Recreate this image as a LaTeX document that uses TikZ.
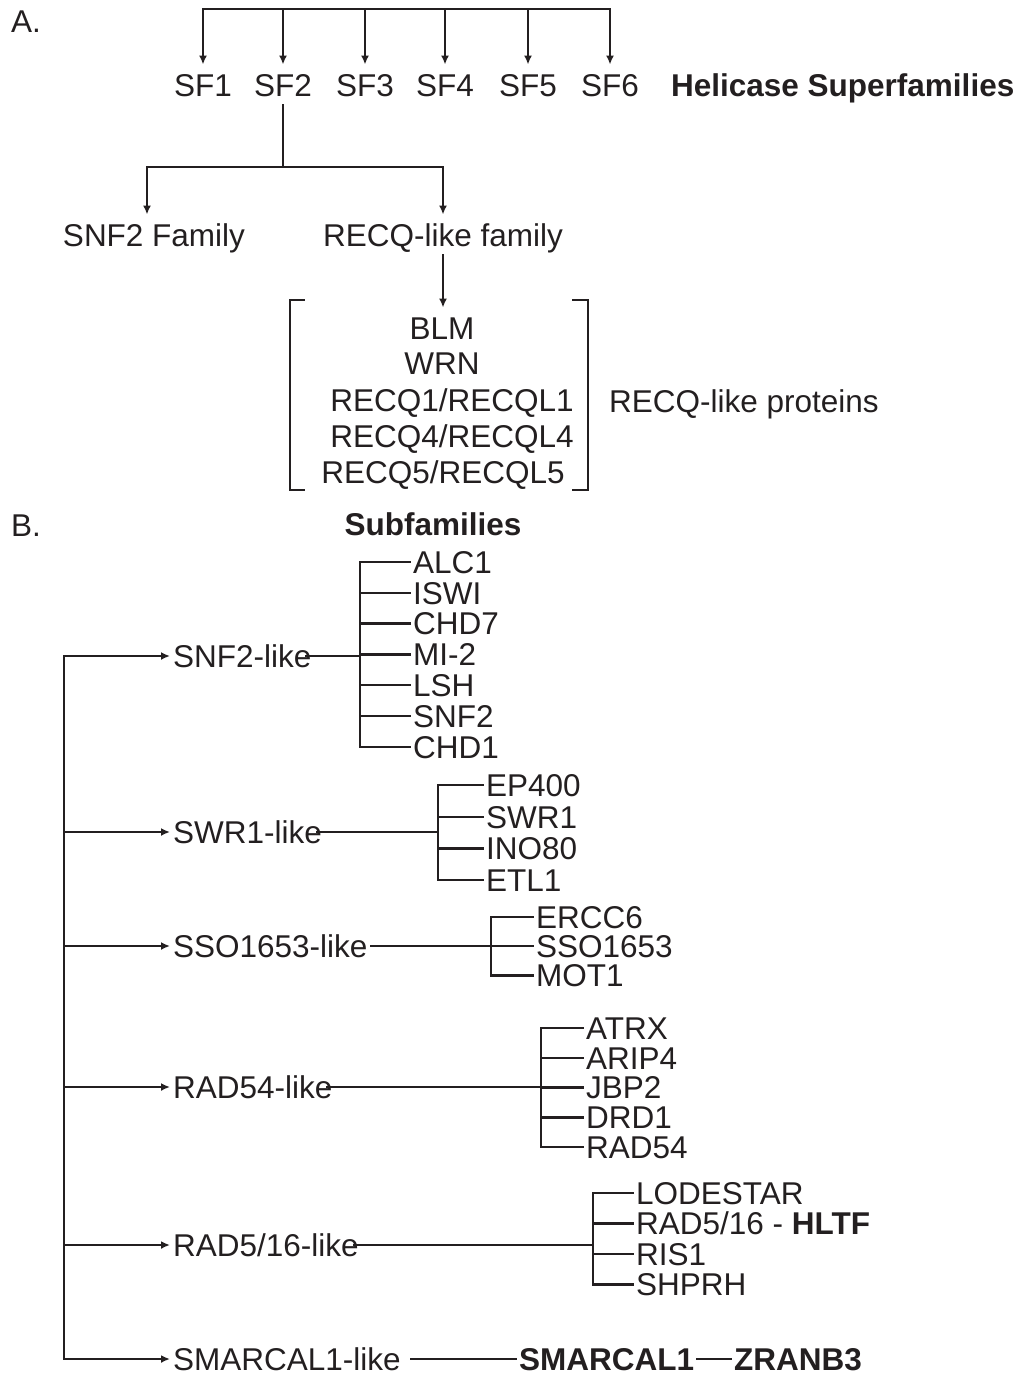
\documentclass[tikz,border=0pt]{standalone}
\usepackage{fontspec}
\setmainfont{Liberation Sans}
\usetikzlibrary{arrows.meta, positioning, calc}
\definecolor{ink}{HTML}{231F20}

\begin{document}
\begin{tikzpicture}[x=1pt, y=-1pt, >={Latex[length=9pt,width=8pt]}, line width=2.3pt, line cap=rect, ink,
    famlbl/.style={inner xsep=0pt, inner ysep=8pt, text height=22.6pt, text depth=0pt, font=\fontsize{31.5}{36}\selectfont},
    sub/.style={anchor=west, inner xsep=2pt, inner ysep=0pt, text height=22.6pt, text depth=0pt, font=\fontsize{31.5}{36}\selectfont}]
        \useasboundingbox (0,0) rectangle (1022,1375);

        % A. helicase superfamilies
        \node[sub] (lblA) at (8,21) {A.};
        \node[famlbl] (sf1) at (203,85) {SF1};
        \node[famlbl] (sf2) at (283,85) {SF2};
        \node[famlbl] (sf3) at (365,85) {SF3};
        \node[famlbl] (sf4) at (445,85) {SF4};
        \node[famlbl] (sf5) at (528,85) {SF5};
        \node[famlbl] (sf6) at (610,85) {SF6};
        \node[sub] (heli) at (668,85) {\textbf{Helicase Superfamilies}};

        \coordinate (bar) at (0,9);
        \draw (sf1 |- bar) -- (sf6 |- bar);
        \foreach \s in {sf1,sf2,sf3,sf4,sf5,sf6}
          \draw[->, line cap=butt] (\s |- bar) -- (\s);

        \node[famlbl] (snf2fam) at (154,235) {SNF2 Family};
        \node[famlbl] (recqfam) at (443,235) {RECQ-like family};
        \coordinate (fork) at (283,167);
        \draw (sf2) -- (fork);
        \draw[->] (fork) -| ([xshift=-7pt]snf2fam.north);
        \draw[->] (fork) -| (recqfam);

        \node[famlbl] (blm) at (442,328) {BLM};
        \node[famlbl] (wrn) at (442,363) {WRN};
        \node[famlbl] (recq1) at (452,400) {RECQ1/RECQL1};
        \node[famlbl] (recq4) at (452,436) {RECQ4/RECQL4};
        \node[famlbl] (recq5) at (443,472) {RECQ5/RECQL5};
        \draw[->] (recqfam) -- (recqfam |- blm.north);
        \draw (304,300) -| (290,490) -- (304,490);
        \draw (573,300) -| (588,490) -- (573,490);
        \node[sub] (recqprot) at (606,401) {RECQ-like proteins};

        % B. SNF2 subfamilies
        \node[sub] (lblB) at (8,525) {B.};
        \node[famlbl] (subfam) at (433,524) {\textbf{Subfamilies}};

        \node[sub] (snfl) at (170,656) {SNF2-like};
        \node[sub] (swrl) at (170,832) {SWR1-like};
        \node[sub] (ssol) at (170,946) {SSO1653-like};
        \node[sub] (r54l) at (170,1087) {RAD54-like};
        \node[sub] (r516l) at (170,1245) {RAD5/16-like};
        \node[sub] (smal) at (170,1359) {SMARCAL1-like};

        \coordinate (spine) at (64,0);
        \draw (spine |- snfl) -- (spine |- smal);
        \foreach \s in {snfl,swrl,ssol,r54l,r516l,smal}
          \draw[->] (spine |- \s) -- (\s);

        % subfamily members
        \coordinate (snfb) at (360,0);
        \foreach \n [count=\i] in {ALC1,ISWI,CHD7,MI-2,LSH,SNF2,CHD1}
          \node[sub] (snf\i) at (410,531.2+30.8*\i) {\n};
        \draw (snfb |- snf1) -- (snfb |- snf7);
        \foreach \i in {1,...,7}
          \draw (snfb |- snf\i) -- (snf\i);
        \draw ([xshift=-8pt]snfl.east) -- (snfl -| snfb);

        \coordinate (swrb) at (438,0);
        \foreach \n [count=\i] in {EP400,SWR1,INO80,ETL1}
          \node[sub] (swr\i) at (483,753.3+31.7*\i) {\n};
        \draw (swrb |- swr1) -- (swrb |- swr4);
        \foreach \i in {1,...,4}
          \draw (swrb |- swr\i) -- (swr\i);
        \draw ([xshift=-8pt]swrl.east) -- (swrl -| swrb);

        \coordinate (ssob) at (491,0);
        \foreach \n [count=\i] in {ERCC6,SSO1653,MOT1}
          \node[sub] (sso\i) at (533,887.7+29.3*\i) {\n};
        \draw (ssob |- sso1) -- (ssob |- sso3);
        \foreach \i in {1,...,3}
          \draw (ssob |- sso\i) -- (sso\i);
        \draw (ssol) -- (ssol -| ssob);

        \coordinate (r54b) at (541,0);
        \foreach \n [count=\i] in {ATRX,ARIP4,JBP2,DRD1,RAD54}
          \node[sub] (r54\i) at (583,998.2+29.8*\i) {\n};
        \draw (r54b |- r541) -- (r54b |- r545);
        \foreach \i in {1,...,5}
          \draw (r54b |- r54\i) -- (r54\i);
        \draw ([xshift=-8pt]r54l.east) -- (r54l -| r54b);

        \coordinate (r516b) at (593,0);
        \foreach \n [count=\i] in {LODESTAR,RAD5/16 - \textbf{HLTF},RIS1,SHPRH}
          \node[sub] (r516\i) at (633,1162.5+30.5*\i) {\n};
        \draw (r516b |- r5161) -- (r516b |- r5164);
        \foreach \i in {1,...,4}
          \draw (r516b |- r516\i) -- (r516\i);
        \draw ([xshift=-8pt]r516l.east) -- (r516l -| r516b);

        \node[sub] (smarcal) at (516,1359) {\textbf{SMARCAL1}};
        \node[sub] (zranb) at (731,1359) {\textbf{ZRANB3}};
        \draw[shorten <=7pt] (smal) -- (smarcal);
        \draw (smarcal) -- (zranb);
      \end{tikzpicture}
\end{document}
